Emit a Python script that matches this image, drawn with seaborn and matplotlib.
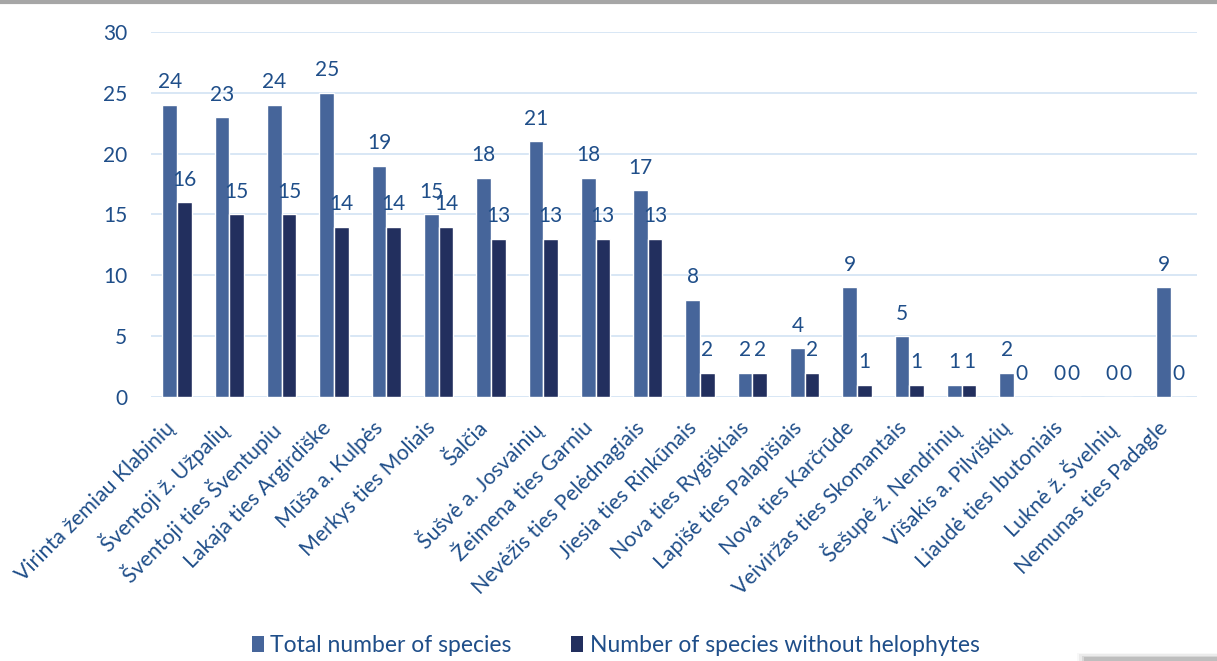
import numpy as np
import pandas as pd
import matplotlib
matplotlib.use("Agg")
import matplotlib.pyplot as plt
import matplotlib.transforms as mtrans
import seaborn as sns
from matplotlib.patches import Rectangle, Patch
from matplotlib.lines import Line2D

sites = ["Virinta žemiau Klabinių", "Šventoji ž. Užpalių", "Šventoji ties Šventupiu",
         "Lakaja ties Argirdiške", "Mūša a. Kulpės", "Merkys ties Moliais", "Šalčia",
         "Šušvė a. Josvainių", "Žeimena ties Garniu", "Nevėžis ties Pelėdnagiais",
         "Jiesia ties Rinkūnais", "Nova ties Rygiškiais", "Lapišė ties Palapišiais",
         "Nova ties Karčrūde", "Veiviržas ties Skomantais", "Šešupė ž. Nendrinių",
         "Višakis a. Pilviškių", "Liaudė ties Ibutoniais", "Luknė ž. Švelnių",
         "Nemunas ties Padagle"]
total = [24, 23, 24, 25, 19, 15, 18, 21, 18, 17, 8, 2, 4, 9, 5, 1, 2, 0, 0, 9]
without_helo = [16, 15, 15, 14, 14, 14, 13, 13, 13, 13, 2, 2, 2, 1, 1, 1, 0, 0, 0, 0]
series = ["Total number of species", "Number of species without helophytes"]
yticks = [0, 5, 10, 15, 20, 25, 30]

colors = ["#46659A", "#222F5E"]
text_c = "#1F4E89"
grid_c = "#D6E5F4"

df = pd.DataFrame({
    "site": sites * 2,
    "value": total + without_helo,
    "series": [series[0]] * len(sites) + [series[1]] * len(sites),
})

sns.set_theme(style="white")
plt.rcParams['font.family'] = ['Lato', 'DejaVu Sans']

fig = plt.figure(figsize=(12.17, 6.61), dpi=100)
ax = fig.add_axes([0.124, 0.3994, 0.8596, 0.5522])

sns.barplot(data=df, x="site", y="value", hue="series", palette=colors,
            width=0.56, ax=ax, edgecolor="white", linewidth=1.0, legend=False,
            saturation=1)

ax.set_ylim(0, 30)
ax.set_xlim(-0.5, len(sites) - 0.5)
ax.set_yticks(yticks)
ax.yaxis.grid(True, color=grid_c, linewidth=1.3)
ax.set_axisbelow(True)
for s in ax.spines.values():
    s.set_visible(False)
ax.set_xlabel("")
ax.set_ylabel("")
ax.tick_params(axis="y", length=0, pad=17, labelsize=15, labelcolor=text_c)
ax.tick_params(axis="x", length=0, pad=15, labelsize=15.3, labelcolor=text_c)
offset = mtrans.ScaledTranslation(-0.13, 0, fig.dpi_scale_trans)
for lab in ax.get_xticklabels():
    lab.set_rotation(45)
    lab.set_ha("right")
    lab.set_rotation_mode("anchor")
    lab.set_transform(lab.get_transform() + offset)

for cont in ax.containers:
    ax.bar_label(cont, fmt="%d", padding=9, fontsize=15, color=text_c)

handles = [Patch(facecolor=c, edgecolor="none") for c in colors]
fig.legend(handles, series, loc="center", bbox_to_anchor=(0.506, 0.024), ncol=2,
           frameon=False, fontsize=16.5, labelcolor=text_c, handlelength=0.5,
           handleheight=0.7, handletextpad=0.3, columnspacing=2.6)

# decorative top border and bottom-right shadow
fig.add_artist(Line2D([0, 1], [0.997, 0.997], transform=fig.transFigure,
                      color="#A6A6A6", linewidth=3))
for i, a in enumerate([0.05, 0.1, 0.18, 0.28]):
    fig.add_artist(Rectangle((0.885 + i * 0.002, 0.0), 0.12, 0.012 - i * 0.002,
                             transform=fig.transFigure, color="#808080",
                             alpha=a, linewidth=0))

fig.savefig("out.png", dpi=100)
